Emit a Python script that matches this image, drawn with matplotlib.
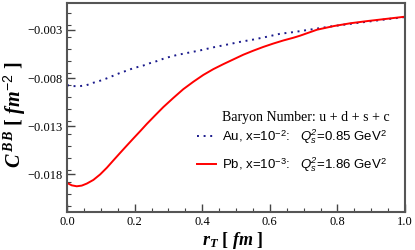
import matplotlib
matplotlib.use("Agg")
import matplotlib.pyplot as plt
import numpy as np
from matplotlib.ticker import MultipleLocator

plt.rcParams['mathtext.fontset'] = 'custom'
plt.rcParams['mathtext.it'] = 'Liberation Serif:italic:bold'
plt.rcParams['mathtext.bf'] = 'Liberation Serif:bold'
plt.rcParams['mathtext.rm'] = 'Liberation Sans'
plt.rcParams['mathtext.sf'] = 'Liberation Sans:italic'

# Au, x=1e-2 (dotted blue)
rt_au = [0.0, 0.019, 0.0385, 0.058, 0.078, 0.098, 0.118, 0.137, 0.157, 0.177, 0.196,
         0.226, 0.246, 0.266, 0.285, 0.305, 0.325, 0.355, 0.394, 0.4335, 0.473, 0.513,
         0.552, 0.592, 0.631, 0.671, 0.71, 0.75, 0.789, 0.829, 0.868, 0.908, 0.947, 1.0]
c_au = [-0.00873, -0.00883, -0.00883, -0.00873, -0.00848, -0.00827, -0.00802, -0.00775,
        -0.00746, -0.00722, -0.00697, -0.00669, -0.00644, -0.00623, -0.00599, -0.00578,
        -0.0056, -0.00539, -0.00512, -0.0048, -0.00452, -0.00423, -0.00399, -0.0037,
        -0.00339, -0.00322, -0.00301, -0.0028, -0.00259, -0.00241, -0.00223, -0.00206,
        -0.00188, -0.00166]

# Pb, x=1e-3 (solid red)
rt_pb = [0.0, 0.0139, 0.0288, 0.0436, 0.0585, 0.078, 0.098, 0.118, 0.1375, 0.157, 0.177,
         0.197, 0.217, 0.236, 0.2604, 0.2849, 0.3145, 0.344, 0.3737, 0.4033, 0.4328,
         0.4624, 0.492, 0.5216, 0.5512, 0.5808, 0.6104, 0.64, 0.6695, 0.689, 0.74, 0.79,
         0.839, 0.89, 0.937, 1.0]
c_pb = [-0.01888, -0.01913, -0.01923, -0.01916, -0.01895, -0.01857, -0.018, -0.0173,
        -0.01653, -0.01577, -0.01500, -0.01424, -0.01349, -0.01276, -0.01188, -0.01101,
        -0.01006, -0.00915, -0.00838, -0.00767, -0.00707, -0.00655, -0.00606, -0.00557,
        -0.00515, -0.00476, -0.00441, -0.00409, -0.00381, -0.0036, -0.00297, -0.00259,
        -0.0023, -0.00207, -0.00188, -0.00162]

yticks = [-0.018, -0.013, -0.008, -0.003]
ytick_labels = ['\u22120.018', '\u22120.013', '\u22120.008', '\u22120.003']
xticks = [0.0, 0.2, 0.4, 0.6, 0.8, 1.0]
xtick_labels = ['0.0', '0.2', '0.4', '0.6', '0.8', '1.0']

fig = plt.figure(figsize=(4.15, 2.5), dpi=100)
ax = fig.add_axes([67/415, 1-212/250, (405-67)/415, (212-3)/250])

ax.plot(rt_au, c_au, color='#1a1a8c', lw=1.4, linestyle=(0, (1, 2.4)),
        label=r'Au, x=10$^{-2}$:   $\mathsf{Q_s^2}$=0.85 GeV$^2$')
ax.plot(rt_pb, c_pb, color='#ff0000', lw=1.4,
        label=r'Pb, x=10$^{-3}$:   $\mathsf{Q_s^2}$=1.86 GeV$^2$')

ax.set_xlim(0, 1.0)
ax.set_ylim(-0.0219, -0.0002)
ax.set_xticks(xticks)
ax.set_xticklabels(xtick_labels, family='Liberation Serif', fontsize=9)
ax.set_yticks(yticks)
ax.set_yticklabels(ytick_labels, family='Liberation Serif', fontsize=9)
ax.xaxis.set_minor_locator(MultipleLocator(0.05))
ax.yaxis.set_minor_locator(MultipleLocator(0.00125))
ax.tick_params(which='both', direction='in', top=False, right=False, color='#444444')
ax.tick_params(which='major', length=6, width=1.0, pad=3)
ax.tick_params(which='minor', length=3, width=0.8)
for s in ax.spines.values():
    s.set_color('#555555')
    s.set_linewidth(1.5)

ax.set_ylabel(r'$C^{\,B\,B}$ [ $fm^{-2}$ ]', family='Liberation Serif',
              fontweight='bold', fontsize=14.5)
ax.yaxis.set_label_coords(-0.115, 0.464)
ax.set_xlabel(r'$r_T$ [ $fm$ ]', family='Liberation Serif',
              fontweight='bold', fontsize=13, labelpad=1)
ax.xaxis.label.set_x(0.49)

ax.text((222-67)/338, (212-117)/209, 'Baryon Number: u + d + s + c',
        transform=ax.transAxes, family='Liberation Serif', fontsize=10,
        ha='left', va='center')

leg = ax.legend(loc='upper left', bbox_to_anchor=((197-67)/338, (212-127)/209),
                frameon=False, borderpad=0, borderaxespad=0,
                prop={'family': 'Liberation Sans', 'size': 9.5},
                handlelength=1.45, handletextpad=0.45, labelspacing=0.75)

fig.savefig('out.png', dpi=100)
